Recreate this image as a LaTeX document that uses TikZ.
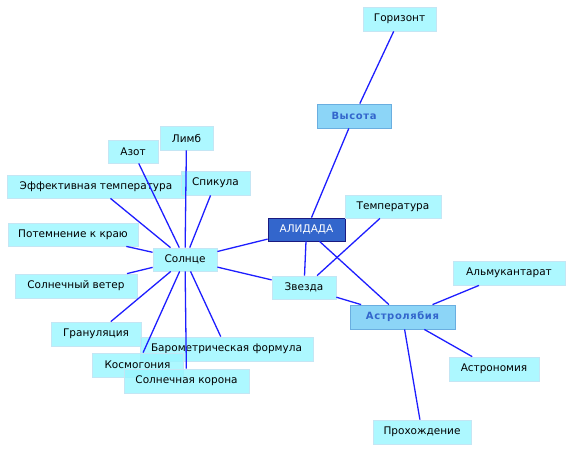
\documentclass[tikz,border=0pt]{standalone}
\usepackage{fontspec}
\setmainfont{DejaVu Sans}
\newfontfamily\hubfont{DejaVu Sans}[LetterSpace=6]
\begin{document}
\begin{tikzpicture}[x=1pt,y=-1pt,
  every node/.style={inner sep=0pt,font=\fontsize{10.5}{12}\selectfont},
  leaf/.style={draw=lbord,fill=lcyan,fill opacity=0.8,text opacity=1,line width=0.8pt},
  hub/.style={draw=hbord,fill=hfill,fill opacity=0.9,text opacity=1,line width=0.8pt,text=htext,font=\hubfont\fontsize{10}{12}\selectfont\bfseries},
  root/.style={draw=rbord,fill=rfill,text=white,line width=0.8pt},
  link/.style={draw=ecol,line width=1.3pt}]
\definecolor{lcyan}{HTML}{99F6FF}
\definecolor{lbord}{HTML}{C4E6F4}
\definecolor{hfill}{HTML}{80D0F6}
\definecolor{hbord}{HTML}{6AAEE0}
\definecolor{htext}{HTML}{3366CC}
\definecolor{rfill}{HTML}{3366CC}
\definecolor{rbord}{HTML}{1A1A80}
\definecolor{ecol}{HTML}{1E1EFF}
\useasboundingbox (0,0) rectangle (572,451);
% nodes
\node[leaf,minimum width=73pt,minimum height=24pt] (gor) at (399.5,19) {Горизонт};
\node[hub,minimum width=74pt,minimum height=24pt] (vys) at (354,116) {Высота};
\node[root,minimum width=77pt,minimum height=23pt] (ali) at (306.5,229.5) {АЛИДАДА};
\node[leaf,minimum width=96pt,minimum height=23pt] (tem) at (393,206.5) {Температура};
\node[leaf,minimum width=64pt,minimum height=23pt] (zve) at (304,287.5) {Звезда};
\node[hub,minimum width=105pt,minimum height=24pt] (ast) at (402.5,317) {Астролябия};
\node[leaf,minimum width=112pt,minimum height=24pt] (alm) at (509,273) {Альмукантарат};
\node[leaf,minimum width=90pt,minimum height=24pt] (asn) at (494,369) {Астрономия};
\node[leaf,minimum width=98pt,minimum height=24pt] (pro) at (422,432) {Прохождение};
\node[leaf,minimum width=64pt,minimum height=23pt] (sol) at (185,259.5) {Солнце};
\node[leaf,minimum width=50pt,minimum height=23pt] (azo) at (133,151.5) {Азот};
\node[leaf,minimum width=53pt,minimum height=24pt] (lim) at (186.5,138) {Лимб};
\node[leaf,minimum width=178pt,minimum height=23pt] (eff) at (96,186.5) {Эффективная температура};
\node[leaf,minimum width=69pt,minimum height=24pt] (spi) at (215.5,183) {Спикула};
\node[leaf,minimum width=130pt,minimum height=23pt] (pot) at (73,234.5) {Потемнение к краю};
\node[leaf,minimum width=122pt,minimum height=24pt] (vet) at (76,286) {Солнечный ветер};
\node[leaf,minimum width=90pt,minimum height=24pt] (gra) at (96,334) {Грануляция};
\node[leaf,minimum width=173pt,minimum height=24pt] (bar) at (226.5,349) {Барометрическая формула};
\node[leaf,minimum width=91pt,minimum height=24pt] (kos) at (137.5,365) {Космогония};
\node[leaf,minimum width=125pt,minimum height=24pt] (kor) at (186.5,381) {Солнечная корона};
% edges
\foreach \n in {azo,lim,eff,spi,pot,vet,gra,bar,kos,kor,ali,zve}
  \draw[link] (sol) -- (\n);
\draw[link] (ali) -- (vys);
\draw[link] (vys) -- (gor);
\draw[link] (ali) -- (zve);
\draw[link] (ali) -- (ast);
\draw[link] (tem) -- (zve);
\draw[link] (zve) -- (ast);
\draw[link] (ast) -- (alm);
\draw[link] (ast) -- (asn);
\draw[link] (ast) -- (pro);
\end{tikzpicture}
\end{document}
